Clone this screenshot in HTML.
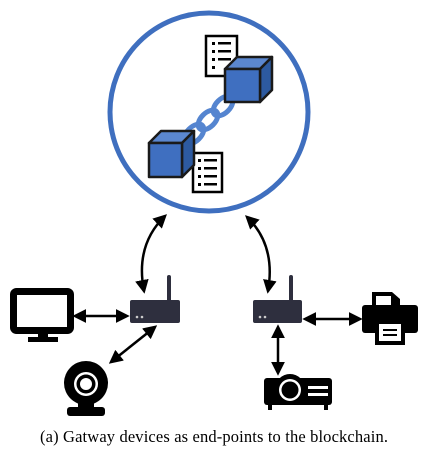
<!DOCTYPE html>
<html><head><style>
body{margin:0;background:#fff;width:426px;height:453px;overflow:hidden}
svg{display:block}
</style></head><body>
<svg width="426" height="453" viewBox="0 0 426 453" xmlns="http://www.w3.org/2000/svg">
<defs>
<marker id="a" viewBox="0 0 10 10" refX="8" refY="5" markerWidth="5.5" markerHeight="5.5" orient="auto-start-reverse"><path d="M0,0 L10,5 L0,10 z" fill="#000"/></marker>
</defs>
<circle cx="209" cy="112" r="99" fill="none" stroke="#3f6fbf" stroke-width="5"/>
<g fill="none" stroke="#5585d0" stroke-width="5">
<ellipse cx="223" cy="106" rx="7" ry="12" transform="rotate(45 223 106)"/>
<ellipse cx="208" cy="120" rx="7" ry="12" transform="rotate(45 208 120)"/>
<ellipse cx="194" cy="134" rx="7" ry="12" transform="rotate(45 194 134)"/>
</g>
<g stroke="#000" stroke-width="2.5">
<rect x="206" y="36" width="31" height="40" fill="#fff"/>
<rect x="193" y="153" width="29" height="39" fill="#fff"/>
</g>
<g fill="#000">
<rect x="212" y="42" width="3" height="3"/><rect x="218" y="42" width="13" height="2.5"/>
<rect x="212" y="50" width="3" height="3"/><rect x="218" y="50" width="13" height="2.5"/>
<rect x="212" y="58" width="3" height="3"/><rect x="218" y="58" width="13" height="2.5"/>
<rect x="212" y="66" width="3" height="3"/>
<rect x="198" y="159" width="3" height="3"/><rect x="204" y="159" width="13" height="2.5"/>
<rect x="198" y="167" width="3" height="3"/><rect x="204" y="167" width="13" height="2.5"/>
<rect x="198" y="175" width="3" height="3"/><rect x="204" y="175" width="13" height="2.5"/>
<rect x="198" y="183" width="3" height="3"/><rect x="204" y="183" width="13" height="2.5"/>
</g>
<g stroke="#1a1a1a" stroke-width="2.5" stroke-linejoin="round">
<path d="M225,69 L237,57 L272,57 L260,69 z" fill="#5b87cf"/>
<path d="M260,69 L272,57 L272,90 L260,102 z" fill="#2d5aa0"/>
<rect x="225" y="69" width="35" height="33" fill="#3f6fc0"/>
<path d="M149,143 L161,131 L194,131 L182,143 z" fill="#5b87cf"/>
<path d="M182,143 L194,131 L194,165 L182,177 z" fill="#2d5aa0"/>
<rect x="149" y="143" width="33" height="34" fill="#3f6fc0"/>
</g>
<g fill="none" stroke="#000" stroke-width="2.5">
<path d="M165,216 Q135,245 144,291" marker-start="url(#a)" marker-end="url(#a)"/>
<path d="M247,217 Q276,245 268,291" marker-start="url(#a)" marker-end="url(#a)"/>
<path d="M75,316 L127,316" marker-start="url(#a)" marker-end="url(#a)"/>
<path d="M155,327 L111,362" marker-start="url(#a)" marker-end="url(#a)"/>
<path d="M305,319 L360,319" marker-start="url(#a)" marker-end="url(#a)"/>
<path d="M278,327 L278,373" marker-start="url(#a)" marker-end="url(#a)"/>
</g>
<g fill="#2e2f3e">
<rect x="130" y="300" width="50" height="23" rx="2"/>
<rect x="167" y="275" width="4" height="27" rx="2"/>
<rect x="253" y="300" width="49" height="23" rx="2"/>
<rect x="289" y="275" width="4" height="27" rx="2"/>
</g>
<g fill="#ccc"><circle cx="137" cy="317" r="1.3"/><circle cx="142" cy="317" r="1.3"/><circle cx="260" cy="317" r="1.3"/><circle cx="265" cy="317" r="1.3"/></g>
<rect x="13.5" y="291.5" width="57" height="39" rx="3" fill="#fff" stroke="#000" stroke-width="7"/>
<rect x="38" y="333" width="10" height="6" fill="#000"/>
<rect x="28" y="337" width="30" height="5" fill="#000"/>
<circle cx="86" cy="383" r="22" fill="#000"/>
<circle cx="86" cy="384" r="12" fill="#fff"/>
<circle cx="86" cy="384" r="9.5" fill="#000"/>
<circle cx="86" cy="384" r="6" fill="#fff"/>
<rect x="78" y="403" width="16" height="6" fill="#000"/>
<rect x="67" y="407" width="38" height="9" rx="3" fill="#000"/>
<path d="M372,292 L392,292 L400,299 L400,306 L372,306 z" fill="#000"/>
<rect x="376" y="296" width="15" height="10" fill="#fff"/>
<rect x="362" y="305" width="56" height="28" rx="3" fill="#000"/>
<rect x="375" y="322" width="30" height="23" fill="#000"/>
<rect x="379" y="324" width="22" height="17" fill="#fff"/>
<rect x="383" y="329" width="14" height="2" fill="#000"/><rect x="383" y="334" width="14" height="2" fill="#000"/>
<rect x="264" y="378" width="68" height="27" rx="3" fill="#000"/>
<circle cx="290" cy="389" r="15" fill="#000"/>
<circle cx="290" cy="390" r="11" fill="#fff"/>
<circle cx="290" cy="390" r="8.5" fill="#000"/>
<rect x="308" y="386" width="20" height="3" fill="#fff"/><rect x="308" y="393" width="20" height="3" fill="#fff"/>
<rect x="268" y="404" width="4" height="6" fill="#000"/><rect x="324" y="404" width="4" height="6" fill="#000"/>
<text x="214" y="442" text-anchor="middle" font-family="Liberation Serif, serif" font-size="16.5" textLength="348" fill="#000">(a) Gatway devices as end-points to the blockchain.</text>
</svg>
</body></html>
